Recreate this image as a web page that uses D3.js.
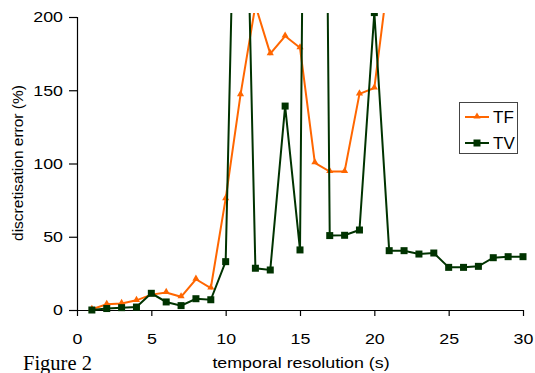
<!DOCTYPE html>
<html>
<head>
<meta charset="utf-8">
<script src="https://cdn.jsdelivr.net/npm/d3@7"></script>
<style>
  html, body { margin: 0; padding: 0; background: #fff; }
  svg { display: block; }
  text { font-family: "Liberation Sans", Arial, sans-serif; fill: #000; }
</style>
</head>
<body>
<svg id="chart" width="535" height="373"></svg>
<script>
// ---- data ----
const resolutionTF = [1,2,3,4,5,6,7,8,9,10,11,12,13,14,15,16,17,18,19,20,21];
const errorTF = [0.5,3.9,4.5,6.6,10.5,12,9,21,15,76,147,208,175,187,179,100.5,94.5,94.5,147.5,151.5,232];
const resolutionTV = [1,2,3,4,5,6,7,8,9,10,11,12,13,14,15,16,17,18,19,20,21,22,23,24,25,26,27,28,29,30];
const errorTV = [0,1,1.6,2,11.4,5.5,3,7.7,7,33,480,28.5,27.3,139.2,41,1200,50.8,51,54.6,203,40.5,40.5,38.2,38.9,29.1,29.1,29.8,35.7,36.4,36.4];
const xTicks = [0,5,10,15,20,25,30];
const yTicks = [0,50,100,150,200];
const seriesNames = ["TF","TV"];
const seriesColors = ["#ff6600","#003300"];

const svg = d3.select("#chart");
const x = d3.scaleLinear().domain([0,30]).range([77,523]);
const y = d3.scaleLinear().domain([0,200]).range([310,17]);
const SX = 1.15; // horizontal stretch of the original text

function stretch(sel) {
  sel.each(function() {
    const t = d3.select(this);
    const tx = +t.attr("x") || 0;
    t.attr("transform", `translate(${tx},0) scale(${SX},1) translate(${-tx},0)`);
  });
}

// clip
svg.append("defs").append("clipPath").attr("id","plotclip")
  .append("rect").attr("x",70).attr("y",13).attr("width",460).attr("height",305);

// axes
const yAxis = svg.append("g").attr("transform","translate(77,0)")
  .call(d3.axisLeft(y).tickValues(yTicks).tickSize(8).tickSizeOuter(0).tickPadding(6));
yAxis.selectAll("text").style("font-size","15.5px").style("font-family","'Liberation Sans', Arial, sans-serif").call(stretch);
const xAxis = svg.append("g").attr("transform","translate(0,310)")
  .call(d3.axisBottom(x).tickValues(xTicks).tickSize(6).tickSizeOuter(0).tickPadding(17));
xAxis.selectAll("text").style("font-size","15.5px").style("font-family","'Liberation Sans', Arial, sans-serif").call(stretch);
svg.selectAll(".domain, .tick line").attr("stroke","#000").attr("stroke-width",1.2);
yAxis.select(".domain").attr("d","M0.5,17V310.5");
xAxis.select(".domain").attr("d","M77,0.5H523");

// titles
svg.append("text").attr("x",301).attr("y",368).attr("text-anchor","middle")
  .style("font-size","15.5px").text("temporal resolution (s)").call(stretch);
svg.append("text").attr("transform","translate(23,163) rotate(-90)").attr("text-anchor","middle")
  .style("font-size","15.5px").text("discretisation error (%)");
svg.append("text").attr("x",23).attr("y",370).style("font-family","'Liberation Serif', 'Times New Roman', serif")
  .style("font-size","20.5px").text("Figure 2");

// series
const line = d3.line().x(d => x(d[0])).y(d => y(d[1]));
const plot = svg.append("g").attr("clip-path","url(#plotclip)");
const tfData = resolutionTF.map((r,i) => [r, errorTF[i]]);
const tvData = resolutionTV.map((r,i) => [r, errorTV[i]]);
const tri = d3.symbol().type(d3.symbolTriangle).size(22);

plot.append("path").datum(tfData).attr("d",line).attr("fill","none")
  .attr("stroke",seriesColors[0]).attr("stroke-width",2);
plot.selectAll(".tf").data(tfData).join("path").attr("class","tf")
  .attr("d",tri).attr("transform",d => `translate(${x(d[0])},${y(d[1])-0.5})`)
  .attr("fill",seriesColors[0]);

plot.append("path").datum(tvData).attr("d",line).attr("fill","none")
  .attr("stroke",seriesColors[1]).attr("stroke-width",2);
plot.selectAll(".tv").data(tvData).join("rect").attr("class","tv")
  .attr("x",d => x(d[0])-3.5).attr("y",d => y(d[1])-3.5)
  .attr("width",7).attr("height",7).attr("fill",seriesColors[1]);

// legend
const lg = svg.append("g");
lg.append("rect").attr("x",459.5).attr("y",102.5).attr("width",58).attr("height",51)
  .attr("fill","#fff").attr("stroke","#444").attr("stroke-width",1);
[117,143].forEach((ly,i) => {
  lg.append("line").attr("x1",465).attr("x2",489).attr("y1",ly).attr("y2",ly)
    .attr("stroke",seriesColors[i]).attr("stroke-width",2);
  if (i === 0) {
    lg.append("path").attr("d",tri).attr("transform",`translate(477,${ly-0.5})`).attr("fill",seriesColors[i]);
  } else {
    lg.append("rect").attr("x",473.5).attr("y",ly-3.5).attr("width",7).attr("height",7).attr("fill",seriesColors[i]);
  }
  lg.append("text").attr("x",493).attr("y",ly+6).style("font-size","17px").text(seriesNames[i]);
});
</script>
</body>
</html>
